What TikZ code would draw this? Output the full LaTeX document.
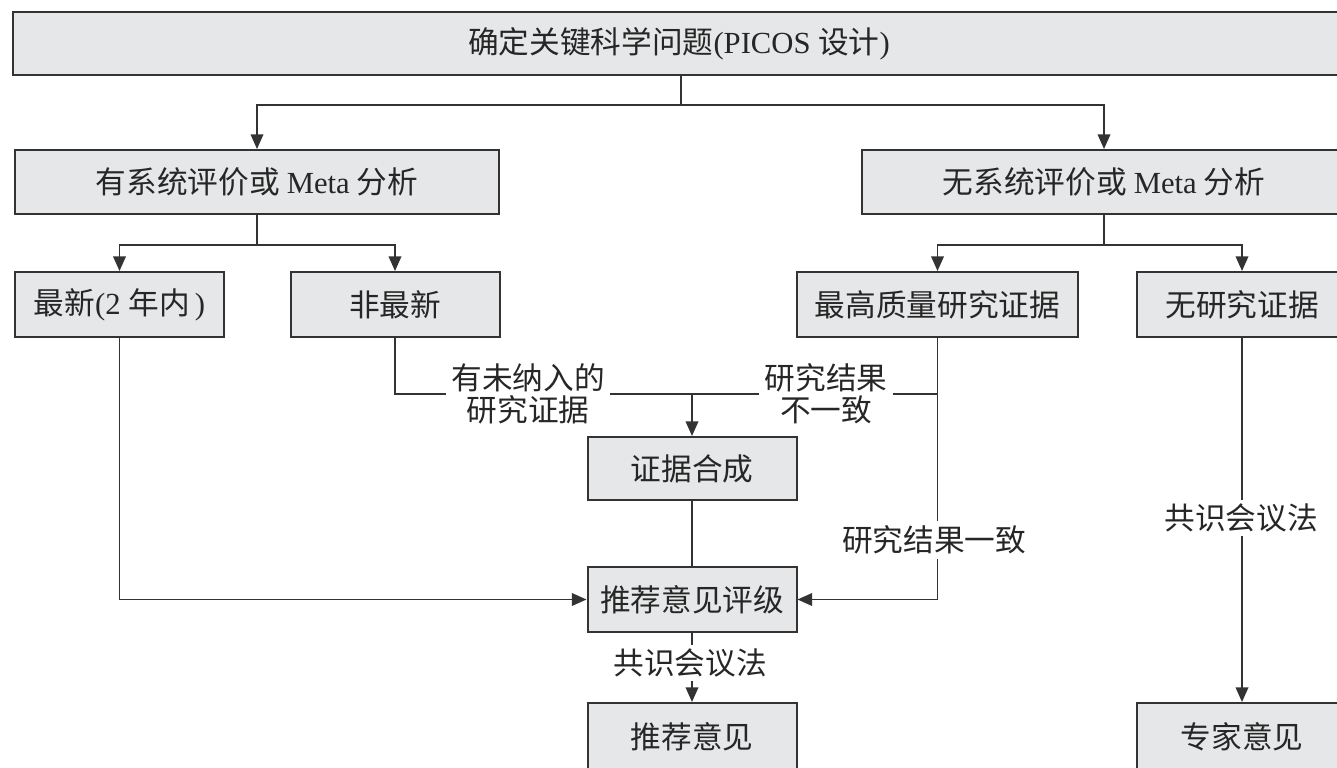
\documentclass[tikz,border=0pt]{standalone}
\usepackage{fontspec}
\setmainfont{Noto Sans CJK SC}
\newfontfamily\lat{Liberation Serif}
\usetikzlibrary{arrows.meta}
\definecolor{boxfill}{HTML}{E6E7E8}
\definecolor{linec}{HTML}{333333}
\definecolor{txtc}{HTML}{262626}
\def\px{0.75pt}
\tikzset{
  box/.style={draw=linec, fill=boxfill, line width=1.5pt, inner sep=0pt, text=txtc,
    font=\fontsize{23}{25}\selectfont},
  lab/.style={inner xsep=4pt, inner ysep=3pt, align=center, text=txtc,
    font=\fontsize{23}{24}\selectfont},
  conn/.style={draw=linec, line width=1.2pt},
  arr/.style={conn, -{Triangle[length=11pt,width=9.5pt]}},
}
\begin{document}
\begin{tikzpicture}[x=0.75pt,y=-0.75pt]
\path[use as bounding box] (0,0) rectangle (1337,767);
\clip (0,0) rectangle (1337,767);
% boxes
\node[box, minimum width=1332*\px, minimum height=63*\px] (top) at (679,43.5) {确定关键科学问题{\lat (PICOS }设计{\lat )}};
\node[box, minimum width=484*\px, minimum height=64*\px] (ys) at (257,182) {有系统评价或 {\lat Meta} 分析};
\node[box, minimum width=484*\px, minimum height=64*\px] (ws) at (1104,182) {无系统评价或 {\lat Meta} 分析};
\node[box, minimum width=209*\px, minimum height=65*\px] (zx) at (119.5,304.5) {最新{\lat (2 }年内{\lat\,)}};
\node[box, minimum width=209*\px, minimum height=65*\px] (fz) at (395,304.5) {非最新};
\node[box, minimum width=281*\px, minimum height=65*\px] (zg) at (937.5,304.5) {最高质量研究证据};
\node[box, minimum width=210*\px, minimum height=65*\px] (wy) at (1242,304.5) {无研究证据};
\node[box, minimum width=209*\px, minimum height=63*\px] (hc) at (692,468.5) {证据合成};
\node[box, minimum width=209*\px, minimum height=65*\px] (pj) at (692,599.5) {推荐意见评级};
\node[box, minimum width=209*\px, minimum height=67*\px] (tj) at (692,736.5) {推荐意见};
\node[box, minimum width=210*\px, minimum height=67*\px] (zj) at (1242,736.5) {专家意见};
% labels
\node[lab] (l1) at (528,394) {有未纳入的\\研究证据};
\node[lab] (l2) at (826,394) {研究结果\\不一致};
\node[lab] (l3) at (934,540) {研究结果一致};
\node[lab] (l4) at (690,663) {共识会议法};
\node[lab] (l5) at (1241,518) {共识会议法};
% junctions
\coordinate (t1) at (681,105);
\coordinate (t2) at (257,245);
\coordinate (t3) at (1104,245);
% connectors
\draw[conn] (t1 |- top.south) -- (t1);
\draw[arr] (t1) -| (ys.north);
\draw[arr] (t1) -| (ws.north);
\draw[conn] (ys.south) -- (t2);
\draw[arr] (t2) -| (zx.north);
\draw[arr] (t2) -| (fz.north);
\draw[conn] (ws.south) -- (t3);
\draw[arr] (t3) -| (zg.north);
\draw[arr] (t3) -| (wy.north);
\draw[conn] (fz.south) |- (l1.west);
\draw[conn] (l1.east) -- (l2.west);
\draw[conn] (l2.east) -| (zg.south);
\draw[arr] (hc.north |- l1.east) -- (hc.north);
\draw[conn] (zg.south) -- (zg.south |- l3.north);
\draw[arr] (zg.south |- l3.south) |- (pj.east);
\draw[conn] (hc.south) -- (pj.north);
\draw[arr] (zx.south) |- (pj.west);
\draw[conn] (pj.south) -- (pj.south |- l4.north);
\draw[arr] (pj.south |- l4.south) -- (tj.north);
\draw[conn] (wy.south) -- (wy.south |- l5.north);
\draw[arr] (wy.south |- l5.south) -- (zj.north);
\end{tikzpicture}
\end{document}
